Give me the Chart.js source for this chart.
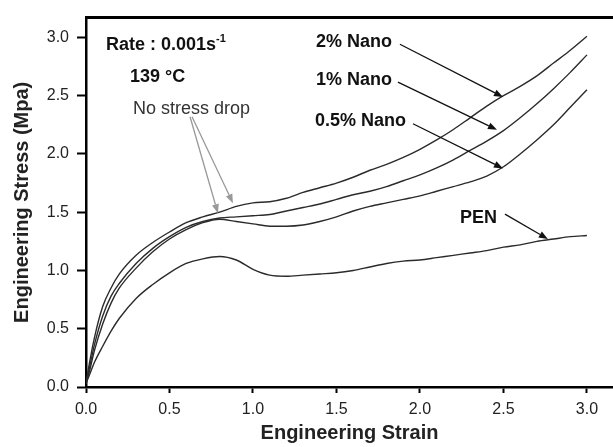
<!DOCTYPE html>
<html>
<head>
<meta charset="utf-8">
<script src="https://cdn.jsdelivr.net/npm/chart.js@4"></script>
<style>
  html, body { margin: 0; padding: 0; background: #fff; }
  #wrap { width: 613px; height: 447px; }
</style>
</head>
<body>
<div id="wrap"><canvas id="stressChart"></canvas></div>
<script>
// strain grid shared by all curves
const strain = [0, 0.02, 0.05, 0.1, 0.15, 0.2, 0.3, 0.4, 0.5, 0.6, 0.7, 0.8, 0.9, 1.0,
  1.1, 1.2, 1.3, 1.4, 1.5, 1.6, 1.7, 1.8, 1.9, 2.0, 2.1, 2.2, 2.3, 2.4, 2.5, 2.6, 2.7, 2.8, 2.9, 3.0];

const nano2 = [0.03, 0.20, 0.42, 0.69, 0.85, 0.97, 1.13, 1.24, 1.33, 1.41, 1.46, 1.50, 1.55, 1.58,
  1.59, 1.62, 1.67, 1.71, 1.75, 1.80, 1.86, 1.91, 1.97, 2.04, 2.12, 2.21, 2.31, 2.41, 2.50, 2.58, 2.67, 2.78, 2.89, 3.01];
const nano1 = [0.03, 0.16, 0.36, 0.61, 0.78, 0.89, 1.06, 1.19, 1.29, 1.37, 1.42, 1.45, 1.46, 1.47,
  1.48, 1.51, 1.54, 1.57, 1.61, 1.65, 1.68, 1.72, 1.77, 1.82, 1.88, 1.95, 2.03, 2.11, 2.20, 2.31, 2.43, 2.56, 2.70, 2.85];
const nano05 = [0.03, 0.13, 0.31, 0.54, 0.72, 0.85, 1.02, 1.16, 1.27, 1.35, 1.41, 1.44, 1.42, 1.40,
  1.38, 1.38, 1.39, 1.42, 1.46, 1.51, 1.55, 1.58, 1.61, 1.64, 1.68, 1.72, 1.76, 1.81, 1.89, 2.00, 2.12, 2.25, 2.40, 2.55];
const pen = [0.03, 0.10, 0.21, 0.35, 0.48, 0.59, 0.76, 0.88, 0.98, 1.06, 1.10, 1.12, 1.09, 1.01,
  0.96, 0.95, 0.96, 0.97, 0.98, 1.00, 1.03, 1.06, 1.08, 1.09, 1.11, 1.13, 1.15, 1.17, 1.20, 1.22, 1.25, 1.27, 1.29, 1.30];

const xTicks = [0, 0.5, 1.0, 1.5, 2.0, 2.5, 3.0];
const yTicks = [0, 0.5, 1.0, 1.5, 2.0, 2.5, 3.0];

// annotation texts (data coords, baseline-left)
const notes = [
  { text: "Rate : 0.001s", sup: "-1", x: 0.12, y: 2.89, bold: true },
  { text: "139 \u00B0C", x: 0.263, y: 2.617, bold: true },
  { text: "No stress drop", x: 0.281, y: 2.344, bold: false },
  { text: "2% Nano", x: 1.377, y: 2.916, bold: true },
  { text: "1% Nano", x: 1.377, y: 2.592, bold: true },
  { text: "0.5% Nano", x: 1.371, y: 2.242, bold: true },
  { text: "PEN", x: 2.24, y: 1.407, bold: true }
];
const arrows = [
  { from: [1.88, 2.941], to: [2.497, 2.489], color: "#111" },
  { from: [1.868, 2.617], to: [2.461, 2.208], color: "#111" },
  { from: [1.958, 2.259], to: [2.497, 1.876], color: "#111" },
  { from: [2.509, 1.483], to: [2.766, 1.27], color: "#111" },
  { from: [0.623, 2.319], to: [0.79, 1.492], color: "#999" },
  { from: [0.635, 2.319], to: [0.88, 1.577], color: "#999" }
];

const FONT = "'Liberation Sans', Arial, sans-serif";

function makeSet(label, values) {
  return {
    label: label,
    data: strain.map((s, i) => ({ x: s, y: values[i] })),
    borderColor: "#2b2b2b",
    borderWidth: 1.4,
    pointRadius: 0,
    fill: false,
    cubicInterpolationMode: "monotone"
  };
}

const notesPlugin = {
  id: "notes",
  afterDraw(chart) {
    const ctx = chart.ctx;
    const xs = chart.scales.x, ys = chart.scales.y;
    const area = chart.chartArea;
    ctx.save();
    // top frame line
    ctx.strokeStyle = "#000";
    ctx.lineWidth = 3;
    ctx.beginPath();
    ctx.moveTo(area.left - 1, area.top);
    ctx.lineTo(area.right, area.top);
    ctx.stroke();

    // arrows
    arrows.forEach((a) => {
      const x1 = xs.getPixelForValue(a.from[0]), y1 = ys.getPixelForValue(a.from[1]);
      const x2 = xs.getPixelForValue(a.to[0]), y2 = ys.getPixelForValue(a.to[1]);
      const ang = Math.atan2(y2 - y1, x2 - x1);
      const hl = 9, hw = 3.5;
      ctx.strokeStyle = a.color;
      ctx.fillStyle = a.color;
      ctx.lineWidth = 1.3;
      ctx.beginPath();
      ctx.moveTo(x1, y1);
      ctx.lineTo(x2 - hl * Math.cos(ang), y2 - hl * Math.sin(ang));
      ctx.stroke();
      ctx.beginPath();
      ctx.moveTo(x2, y2);
      ctx.lineTo(x2 - hl * Math.cos(ang) + hw * Math.sin(ang), y2 - hl * Math.sin(ang) - hw * Math.cos(ang));
      ctx.lineTo(x2 - hl * Math.cos(ang) - hw * Math.sin(ang), y2 - hl * Math.sin(ang) + hw * Math.cos(ang));
      ctx.closePath();
      ctx.fill();
    });

    // texts
    ctx.textBaseline = "alphabetic";
    ctx.textAlign = "left";
    notes.forEach((n) => {
      const px = xs.getPixelForValue(n.x), py = ys.getPixelForValue(n.y);
      ctx.fillStyle = n.bold ? "#111" : "#333";
      ctx.font = (n.bold ? "bold " : "") + "18px " + FONT;
      ctx.fillText(n.text, px, py);
      if (n.sup) {
        const w = ctx.measureText(n.text).width;
        ctx.font = "bold 11px " + FONT;
        ctx.fillText(n.sup, px + w, py - 8);
      }
    });
    ctx.restore();
  }
};

const ctx = document.getElementById("stressChart").getContext("2d");
new Chart(ctx, {
  type: "line",
  data: {
    datasets: [
      makeSet("2% Nano", nano2),
      makeSet("1% Nano", nano1),
      makeSet("0.5% Nano", nano05),
      makeSet("PEN", pen)
    ]
  },
  options: {
    responsive: true,
    maintainAspectRatio: false,
    animation: false,
    layout: { padding: { top: 15, right: 0, bottom: 0, left: 0 } },
    plugins: { legend: { display: false }, tooltip: { enabled: false } },
    scales: {
      x: {
        type: "linear",
        min: 0,
        max: 3.156,
        afterBuildTicks: (scale) => { scale.ticks = xTicks.map((v) => ({ value: v })); },
        afterFit: (scale) => { scale.height = 60; },
        border: { display: true, color: "#000", width: 2.5 },
        grid: { drawOnChartArea: false, drawTicks: true, tickLength: 6, tickWidth: 2, tickColor: "#000" },
        ticks: {
          padding: 7,
          color: "#222",
          font: { family: FONT, size: 16 },
          callback: (v) => Number(v).toFixed(1)
        },
        title: {
          display: true,
          text: "Engineering Strain",
          color: "#222",
          font: { family: FONT, size: 20, weight: "bold" },
          padding: { top: 0, bottom: 2 }
        }
      },
      y: {
        type: "linear",
        min: 0,
        max: 3.17,
        afterBuildTicks: (scale) => { scale.ticks = yTicks.map((v) => ({ value: v })); },
        afterFit: (scale) => { scale.width = 86; },
        border: { display: true, color: "#000", width: 2.5 },
        grid: { drawOnChartArea: false, drawTicks: true, tickLength: 9, tickWidth: 2, tickColor: "#000" },
        ticks: {
          padding: 8,
          color: "#222",
          font: { family: FONT, size: 16 },
          callback: (v) => Number(v).toFixed(1)
        },
        title: {
          display: true,
          text: "Engineering Stress (Mpa)",
          color: "#222",
          font: { family: FONT, size: 20, weight: "bold" },
          padding: { top: 10, bottom: 0 }
        }
      }
    }
  },
  plugins: [notesPlugin]
});
</script>
</body>
</html>
